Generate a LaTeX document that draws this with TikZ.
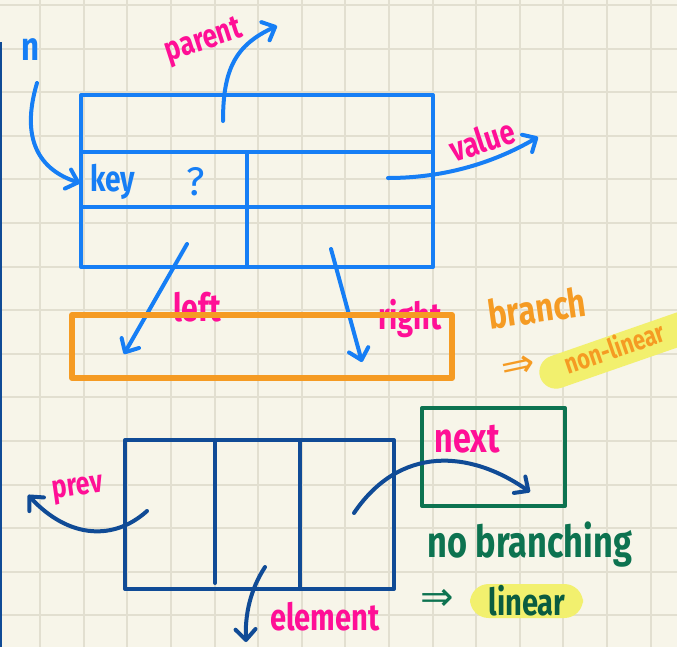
\documentclass[tikz,border=0pt]{standalone}
\usepackage{fontspec}
\setmainfont{Fira Sans}
\newfontfamily\symfont{DejaVu Sans}
\usetikzlibrary{arrows.meta}
\definecolor{paper}{RGB}{247,245,233}
\definecolor{gridc}{RGB}{226,223,208}
\definecolor{bblue}{RGB}{22,126,245}
\definecolor{dblue}{RGB}{16,75,150}
\definecolor{pinkc}{RGB}{255,15,150}
\definecolor{orangec}{RGB}{245,155,35}
\definecolor{greenc}{RGB}{13,115,80}
\definecolor{hilite}{RGB}{242,240,110}
\newcommand{\hand}[2]{\scalebox{0.78}[1]{\bfseries\fontsize{#1}{#1}\selectfont #2}}
\tikzset{
  x=0.75pt, y=-0.75pt,
  pen/.style={line width=3pt, line cap=round, line join=round},
  arr/.style={pen, -{Straight Barb[length=8pt,width=15pt,line cap=round,line join=round]}},
  hw/.style={inner sep=0pt},
}
\begin{document}
\begin{tikzpicture}
\useasboundingbox (0,0) rectangle (677,647);
\fill[paper] (0,0) rectangle (677,647);
% grid
\foreach \k in {1,...,15} {
  \draw[gridc, line width=1.5pt] ({-3.5+43.6*\k},0) -- ({-3.5+43.6*\k},647);
}
\foreach \k in {0,...,14} {
  \draw[gridc, line width=1.5pt] (0,{5+43.6*\k}) -- (677,{5+43.6*\k});
}
% left margin line
\draw[dblue, line width=1.5pt] (1,42) -- (1,647);

% ---------- tree node box ----------
\draw[bblue, pen] (81,95) rectangle (433,267);
\draw[bblue, pen] (81,152) -- (433,152);
\draw[bblue, pen] (81,207) -- (433,207);
\draw[bblue, pen] (247,152) -- (247,267);

\node[hw, text=bblue] (nlab) at (31,50) {\hand{30}{n}};
\node[hw, text=bblue] (key) at (113,182) {\hand{27}{key}};
\node[hw, text=bblue, font=\fontsize{30}{30}\selectfont] (q) at (196,182) {?};
\node[hw, text=pinkc, rotate=18] (parent) at (204,42) {\hand{25}{parent}};
\node[hw, text=pinkc, rotate=18] (value) at (482,140) {\hand{26}{value}};
\node[hw, text=pinkc] (left) at (197,307) {\hand{29}{left}};
\node[hw, text=pinkc] (right) at (410,318) {\hand{28}{right}};

\coordinate (p0) at (223,121); \coordinate (p1) at (277,26);
\draw[bblue, arr] (p0) .. controls (223,70) and (235,45) .. (p1);
\coordinate (n0) at (37,83); \coordinate (n1) at (80,183);
\draw[bblue, arr] (n0) .. controls (20,140) and (40,170) .. (n1);
\coordinate (v0) at (388,178); \coordinate (v1) at (538,137);
\draw[bblue, arr] (v0) .. controls (440,178) and (490,165) .. (v1);
\coordinate (l0) at (187,244); \coordinate (l1) at (124,354);
\draw[bblue, arr] (l0) -- (l1);
\coordinate (r0) at (331,249); \coordinate (r1) at (362,362);
\draw[bblue, arr] (r0) -- (r1);

% orange box
\draw[orangec, line width=4.5pt, line join=round] (72,315) rectangle (452,378);
\node[hw, text=orangec, rotate=8] (branch) at (537,308) {\hand{30}{branch}};
\begin{scope}
\clip (0,0) rectangle (677,647);
\draw[hilite, line width=25pt, line cap=round] (556,372) -- (700,322);
\end{scope}
\node[hw, text=orangec, rotate=12, font=\symfont\fontsize{30}{30}\selectfont] (imp1) at (519,368) {⇒};
\node[hw, text=orangec, rotate=19] (nonlin) at (614,347) {\hand{21}{non-linear}};

% ---------- list node box ----------
\draw[dblue, pen] (125,440) rectangle (394,589);
\draw[dblue, pen] (215,440) -- (215,583);
\draw[dblue, pen] (300,440) -- (300,589);

\draw[greenc, pen] (422,408) rectangle (565,506);

\node[hw, text=pinkc, rotate=8] (prev) at (78,490) {\hand{24}{prev}};
\node[hw, text=pinkc] (element) at (325,617) {\hand{28}{element}};
\node[hw, text=pinkc] (next) at (467,439) {\hand{31}{next}};

\coordinate (pv0) at (147,511); \coordinate (pv1) at (28,495);
\draw[dblue, arr] (pv0) .. controls (115,540) and (70,540) .. (pv1);
\coordinate (e0) at (265,567); \coordinate (e1) at (246,642);
\draw[dblue, arr] (e0) .. controls (250,590) and (245,615) .. (e1);
\coordinate (x0) at (354,513); \coordinate (x1) at (530,492);
\draw[dblue, arr] (x0) .. controls (400,445) and (470,450) .. (x1);

\node[hw, text=greenc] (nobr) at (530,545) {\hand{33}{no branching}};
\node[hw, text=greenc, font=\symfont\fontsize{30}{30}\selectfont] (imp2) at (437,600) {⇒};
\fill[hilite, rounded corners=14pt] (470,584) rectangle (583,618);
\node[hw, text=greenc!80!black] (linear) at (527,601) {\hand{28}{linear}};
\end{tikzpicture}
\end{document}
